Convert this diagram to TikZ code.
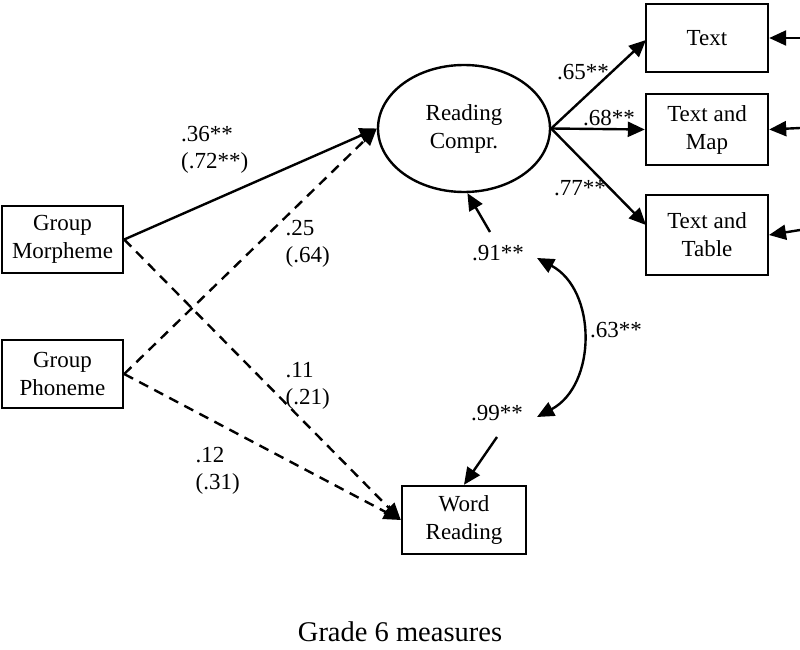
\documentclass[tikz,border=0pt]{standalone}
\usepackage{fontspec}
\setmainfont{Liberation Serif}
\usetikzlibrary{arrows.meta,shapes.geometric}
\begin{document}
\begin{tikzpicture}[x=1pt,y=-1pt,
  every node/.style={font=\fontsize{23}{28}\selectfont, inner sep=0pt},
  box/.style={draw, line width=2.4pt, align=center},
  arr/.style={line width=2.4pt, -{Triangle[length=17pt,width=15pt]}},
  darr/.style={arr, dash pattern=on 10pt off 7pt},
  dbl/.style={line width=2.4pt, {Triangle[length=17pt,width=15pt]}-{Triangle[length=17pt,width=15pt]}},
  lab/.style={align=left, font=\fontsize{23}{27}\selectfont},
]
\useasboundingbox (0,0) rectangle (800,650);
% boxes
\node[box, minimum width=121pt, minimum height=67pt] (gm) at (62.5,239.5) {Group\\Morpheme};
\node[box, minimum width=121pt, minimum height=68pt] (gp) at (62.5,374) {Group\\Phoneme};
\node[draw, ellipse, line width=2.4pt, minimum width=172pt, minimum height=127pt, align=center] (rc) at (464,128.5) {Reading\\Compr.};
\node[box, minimum width=122pt, minimum height=68pt] (t1) at (707,38) {Text};
\node[box, minimum width=122pt, minimum height=71pt] (t2) at (707,129.5) {Text and\\Map};
\node[box, minimum width=122pt, minimum height=80pt] (t3) at (707,235) {Text and\\Table};
\node[box, minimum width=124pt, minimum height=68pt] (wr) at (464,520) {Word\\Reading};
% coordinates
\coordinate (e1) at (800,38);
\coordinate (e2) at (800,128);
\coordinate (e3) at (800,230);
\coordinate (t3in) at (769,235);
\coordinate (t3l) at (646,225);
\coordinate (t1l) at (646,40);
\coordinate (r1t) at (490,232);
\coordinate (r2t) at (497,437);
\coordinate (c1) at (537,258);
\coordinate (c2) at (537,417);
% paths from group nodes
\draw[arr] (gm.east) -- (rc.west);
\draw[darr] (gp.east) -- (rc.west);
\draw[darr] (gm.east) -- (wr.west);
\draw[darr] (gp.east) -- (wr.west);
% loadings
\draw[arr] (rc.east) -- (t1l);
\draw[arr] (rc.east) -- (t2.west);
\draw[arr] (rc.east) -- (t3l);
% errors
\draw[arr] (e1) -- (t1.east);
\draw[arr] (e2) -- (t2.east);
\draw[arr] (e3) -- (t3in);
% residuals
\draw[arr] (r1t) -- (rc.-87);
\draw[arr] (r2t) -- (wr.north);
\draw[dbl] (c1) .. controls (597,290) and (597,385) .. (c2);
% labels
\node[lab, anchor=west] (l1) at (181,150) {.36**\\(.72**)};
\node[lab, anchor=west] (l2) at (285.5,244) {.25\\(.64)};
\node[lab, anchor=west] (l3) at (285.5,386) {.11\\(.21)};
\node[lab, anchor=west] (l4) at (195.5,471) {.12\\(.31)};
\node (l5) at (583,72) {.65**};
\node (l6) at (609,118) {.68**};
\node (l7) at (580,188) {.77**};
\node (l8) at (498,253) {.91**};
\node (l9) at (497,413) {.99**};
\node (l10) at (616,330) {.63**};
\node[font=\fontsize{28.5}{34}\selectfont] (title) at (400,632) {Grade 6 measures};
\end{tikzpicture}
\end{document}
